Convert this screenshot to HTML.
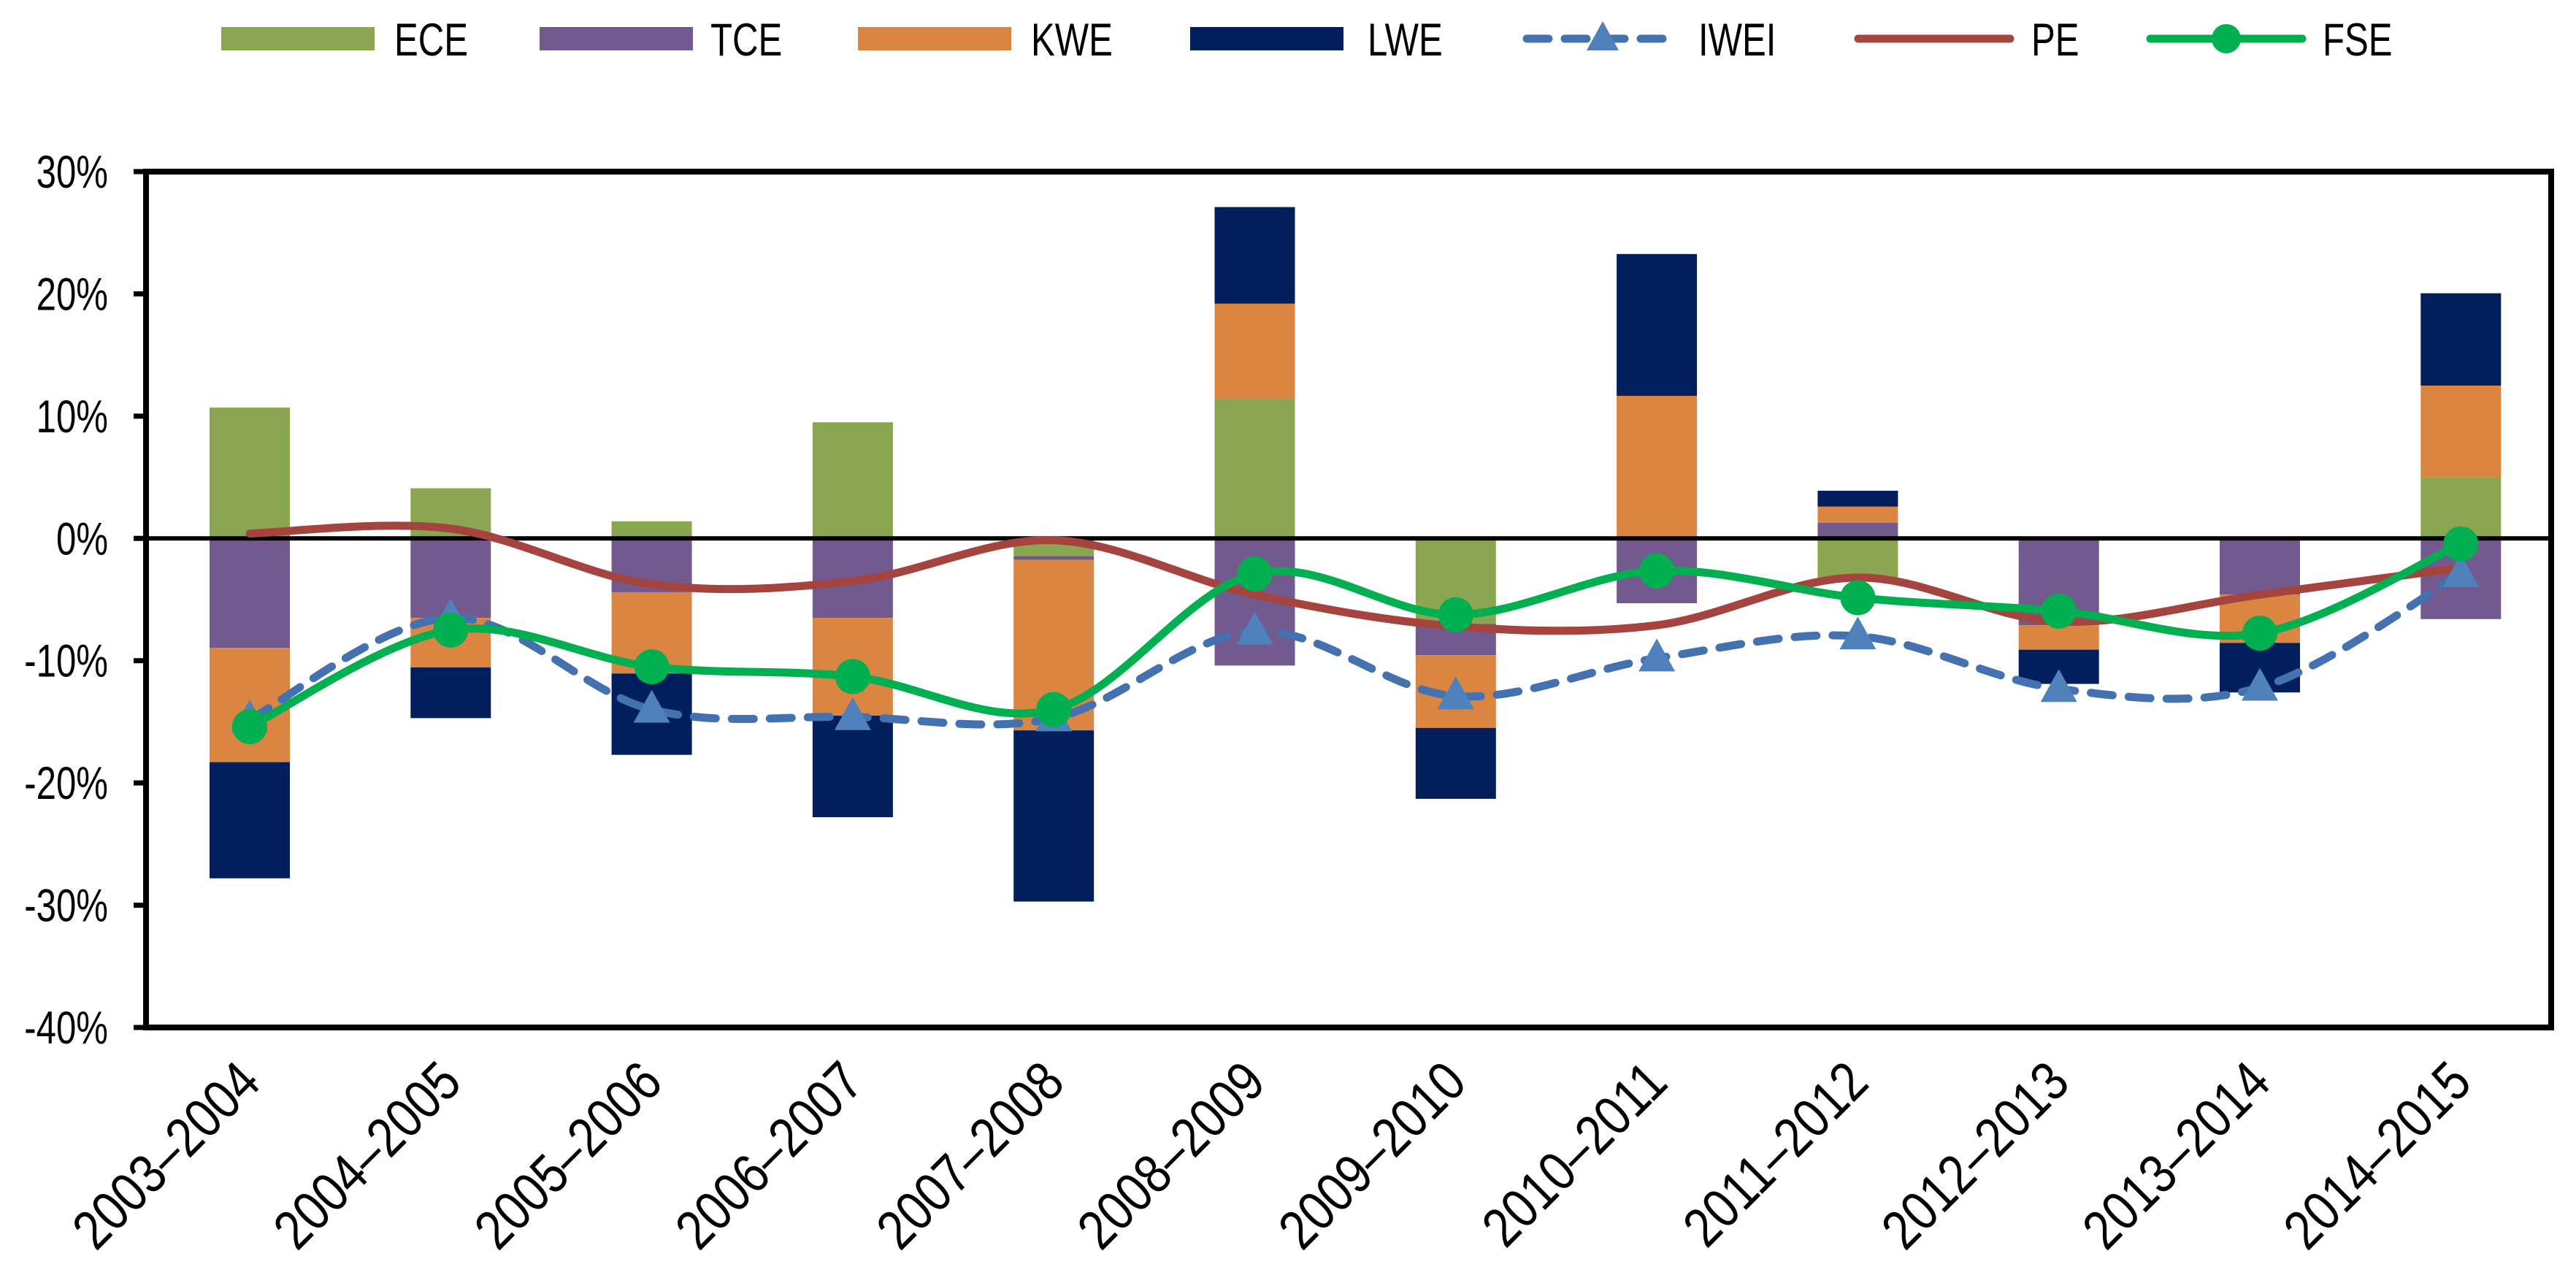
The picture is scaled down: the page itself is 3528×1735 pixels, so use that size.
<!DOCTYPE html>
<html><head><meta charset="utf-8">
<style>
html,body{margin:0;padding:0;background:#fff;}
svg{display:block;}
text{font-family:"Liberation Sans",sans-serif;fill:#000;}
</style></head>
<body>
<svg id="chart" width="3528" height="1735" viewBox="0 0 3528 1735" xmlns="http://www.w3.org/2000/svg">
  <g id="legend"></g>
  <g id="bars"></g>
  <g id="axes"></g>
  <g id="lines"></g>
</svg>
<script>
const categories = ["2003–2004","2004–2005","2005–2006","2006–2007","2007–2008","2008–2009","2009–2010","2010–2011","2011–2012","2012–2013","2013–2014","2014–2015"];
const eceValues = [10.7, 4.1, 1.4, 9.5, -1.45, 11.4, -7.0, 0, -3.3, 0, 0, 5.0];
const tceValues = [-8.95, -6.5, -4.4, -6.5, -0.3, -10.4, -2.55, -5.3, 1.27, -7.1, -4.6, -6.6];
const kweValues = [-9.35, -4.05, -6.65, -8.0, -13.95, 7.8, -5.95, 11.66, 1.33, -2.0, -3.95, 7.5];
const lweValues = [-9.5, -4.15, -6.65, -8.3, -14.0, 7.9, -5.8, 11.6, 1.3, -2.8, -4.05, 7.55];
const iweiValues = [-14.8, -6.5, -14.0, -14.6, -14.7, -7.6, -12.9, -9.8, -8.0, -12.3, -12.2, -2.9];
const peValues = [0.4, 0.8, -3.75, -3.5, -0.15, -4.6, -7.2, -7.1, -3.2, -6.8, -4.6, -2.4];
const fseValues = [-15.4, -7.5, -10.5, -11.3, -14.0, -2.9, -6.25, -2.65, -4.85, -5.95, -7.75, -0.45];
const yTicks = [30, 20, 10, 0, -10, -20, -30, -40];

const NS = "http://www.w3.org/2000/svg";
const L = 200, R = 3494, T = 235, B = 1407;
const yMin = -40, yMax = 30;
function y(v){ return T + (yMax - v) / (yMax - yMin) * (B - T); }
const band = 275.3;
function x(i){ return 342 + band * i; }
function el(tag, attrs, parent){
  const e = document.createElementNS(NS, tag);
  for (const k in attrs) e.setAttribute(k, attrs[k]);
  parent.appendChild(e);
  return e;
}
const C = {ECE:"#8BA650", TCE:"#725A8F", KWE:"#DB8542", LWE:"#001F5C", IWEI:"#4472B0", IWEIm:"#4F81BD", PE:"#A5443F", FSE:"#00B050"};

const barsG = document.getElementById("bars");
const seriesList = [["ece", eceValues, C.ECE],["tce", tceValues, C.TCE],["kwe", kweValues, C.KWE],["lwe", lweValues, C.LWE]];
const bw = 110;
categories.forEach((c, i) => {
  let pos = 0, neg = 0;
  seriesList.forEach(([nm, arr, col]) => {
    const v = arr[i];
    let a, b;
    if (v >= 0) { a = pos; b = pos + v; pos = b; } else { a = neg; b = neg + v; neg = b; }
    const r = el("rect", {x: x(i) - bw/2, y: Math.min(y(a), y(b)), width: bw, height: Math.abs(y(a) - y(b)), fill: col}, barsG);
    
    
  });
});

const ax = document.getElementById("axes");
const zl = el("line", {x1: L, x2: R, y1: y(0), y2: y(0), stroke: "#000", "stroke-width": 6}, ax);


const frame = el("rect", {x: L, y: T, width: R - L, height: B - T, fill: "none", stroke: "#000", "stroke-width": 8}, ax);


yTicks.forEach(t => {
  const tk = el("line", {x1: 183, x2: L, y1: y(t), y2: y(t), stroke: "#000", "stroke-width": 7}, ax);
  
  
  const tx = el("text", {transform: "translate(148," + (y(t) + 22) + ") scale(0.78,1)", "text-anchor": "end", "font-size": 63}, ax);
  tx.textContent = t + "%";
  
  
});
categories.forEach((c, i) => {
  const tx = el("text", {transform: "translate(" + (x(i) + 18) + ",1486) rotate(-45) scale(0.85,1)", "text-anchor": "end", "font-size": 76}, ax);
  tx.textContent = c;
  
  
});

function smooth(vals){
  const p = vals.map((v, i) => [x(i), y(v)]);
  let d = "M" + p[0][0] + "," + p[0][1];
  for (let i = 0; i < p.length - 1; i++) {
    const p0 = p[i-1] || p[i], p1 = p[i], p2 = p[i+1], p3 = p[i+2] || p[i+1];
    const c1 = [p1[0] + (p2[0] - p0[0]) / 6, p1[1] + (p2[1] - p0[1]) / 6];
    const c2 = [p2[0] - (p3[0] - p1[0]) / 6, p2[1] - (p3[1] - p1[1]) / 6];
    d += " C" + c1[0] + "," + c1[1] + " " + c2[0] + "," + c2[1] + " " + p2[0] + "," + p2[1];
  }
  return d;
}
const lg = document.getElementById("lines");
const pe = el("path", {d: smooth(peValues), fill: "none", stroke: C.PE, "stroke-width": 11, "stroke-linecap": "round"}, lg);


const iw = el("path", {d: smooth(iweiValues), fill: "none", stroke: C.IWEI, "stroke-width": 11, "stroke-dasharray": "30 22", "stroke-linecap": "round"}, lg);


iweiValues.forEach((v, i) => {
  const cx = x(i), cy = y(v);
  const tri = el("polygon", {points: (cx) + "," + (cy - 27) + " " + (cx - 25) + "," + (cy + 18) + " " + (cx + 25) + "," + (cy + 18), fill: C.IWEIm}, lg);
  
  
});
const fs = el("path", {d: smooth(fseValues), fill: "none", stroke: C.FSE, "stroke-width": 11, "stroke-linecap": "round"}, lg);


fseValues.forEach((v, i) => {
  const ci = el("circle", {cx: x(i), cy: y(v), r: 24, fill: C.FSE}, lg);
  
  
});

const lgd = document.getElementById("legend");
const legendItems = [
  ["ECE", "rect", C.ECE, 303, 540],
  ["TCE", "rect", C.TCE, 739, 973],
  ["KWE", "rect", C.KWE, 1175, 1412],
  ["LWE", "rect", C.LWE, 1630, 1873],
  ["IWEI", "dash", C.IWEI, 2085, 2326],
  ["PE", "line", C.PE, 2539, 2782],
  ["FSE", "dot", C.FSE, 2939, 3181]
];
const LY = 53;
legendItems.forEach(([name, kind, col, sx, tx]) => {
  const g = el("g", {}, lgd);
  
  
  if (kind === "rect") {
    el("rect", {x: sx, y: LY - 16, width: 210, height: 32, fill: col}, g);
  } else {
    el("line", {x1: sx + 6, x2: sx + 214, y1: LY, y2: LY, stroke: col, "stroke-width": 11, "stroke-linecap": "round", "stroke-dasharray": kind === "dash" ? "30 22" : "none"}, g);
    if (kind === "dash") el("polygon", {points: (sx+110) + "," + (LY-24) + " " + (sx+88) + "," + (LY+16) + " " + (sx+132) + "," + (LY+16), fill: C.IWEIm}, g);
    if (kind === "dot") el("circle", {cx: sx + 110, cy: LY, r: 20, fill: col}, g);
  }
  const t = el("text", {transform: "translate(" + tx + "," + (LY + 23) + ") scale(0.78,1)", "font-size": 63}, g);
  t.textContent = name;
});
</script>
</body></html>
